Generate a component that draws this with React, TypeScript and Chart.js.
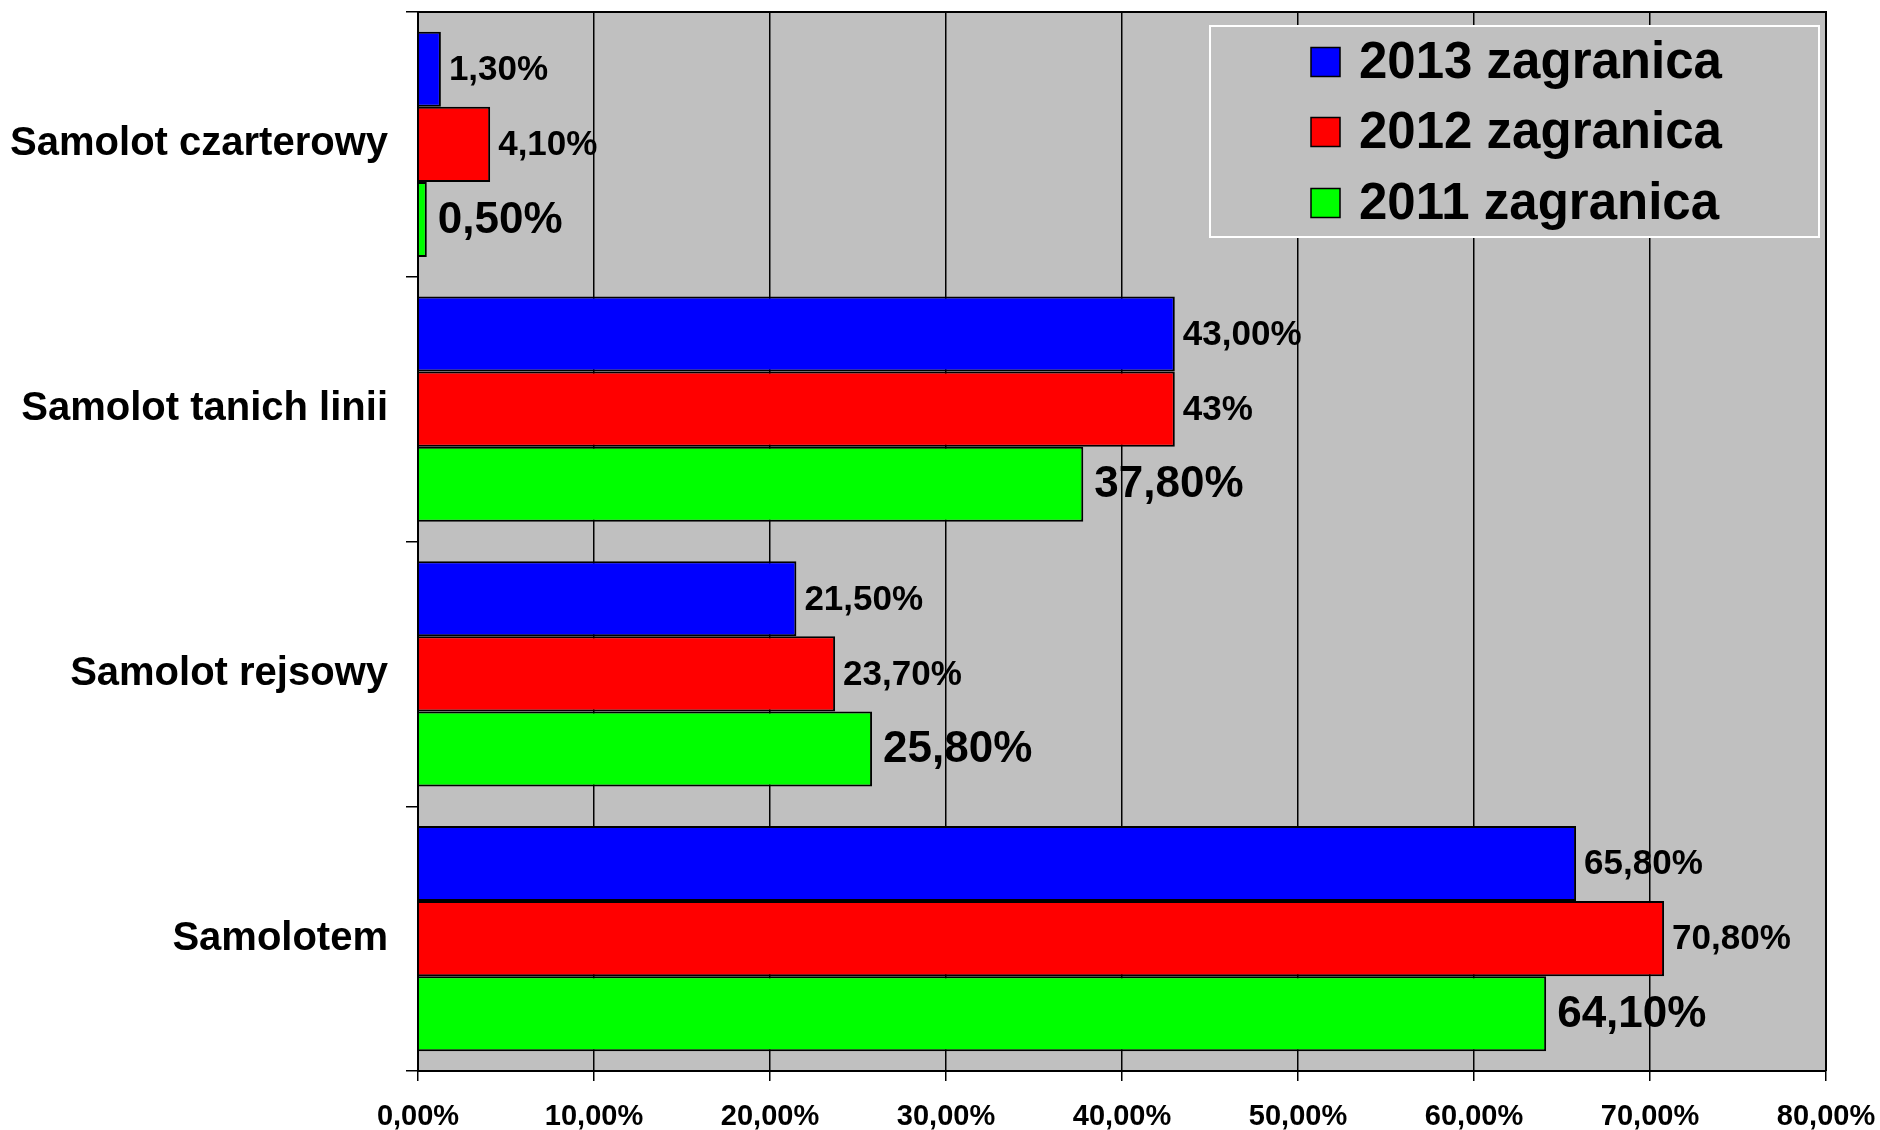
import React, { useEffect, useRef } from "react";
import { Chart, registerables } from "chart.js";

Chart.register(...registerables);

const categories = [
  "Samolot czarterowy",
  "Samolot tanich linii",
  "Samolot rejsowy",
  "Samolotem",
];

const seriesNames = ["2013 zagranica", "2012 zagranica", "2011 zagranica"];

const values2013 = [1.3, 43.0, 21.5, 65.8];
const values2012 = [4.1, 43.0, 23.7, 70.8];
const values2011 = [0.5, 37.8, 25.8, 64.1];

const labels2013 = ["1,30%", "43,00%", "21,50%", "65,80%"];
const labels2012 = ["4,10%", "43%", "23,70%", "70,80%"];
const labels2011 = ["0,50%", "37,80%", "25,80%", "64,10%"];

const xTickLabels = [
  "0,00%",
  "10,00%",
  "20,00%",
  "30,00%",
  "40,00%",
  "50,00%",
  "60,00%",
  "70,00%",
  "80,00%",
];

const FONT = "'Liberation Sans', Arial, Helvetica, sans-serif";
const PLOT_BG = "#C0C0C0";

const dataLabelSets = [labels2013, labels2012, labels2011];

const plotBgPlugin = {
  id: "plotBg",
  beforeDraw(chart: any) {
    const { ctx, chartArea } = chart;
    ctx.save();
    ctx.fillStyle = PLOT_BG;
    ctx.fillRect(
      chartArea.left,
      chartArea.top,
      chartArea.right - chartArea.left,
      chartArea.bottom - chartArea.top
    );
    ctx.restore();
  },
  afterDatasetsDraw(chart: any) {
    const { ctx, chartArea } = chart;
    ctx.save();
    ctx.strokeStyle = "#000";
    ctx.lineWidth = 2;
    ctx.beginPath();
    ctx.moveTo(chartArea.left, chartArea.top);
    ctx.lineTo(chartArea.right, chartArea.top);
    ctx.lineTo(chartArea.right, chartArea.bottom);
    ctx.stroke();
    ctx.restore();
  },
};

const dataLabelPlugin = {
  id: "dataLabels",
  afterDatasetsDraw(chart: any) {
    const { ctx } = chart;
    ctx.save();
    ctx.fillStyle = "#000";
    ctx.textAlign = "left";
    ctx.textBaseline = "middle";
    chart.data.datasets.forEach((ds: any, di: number) => {
      const meta = chart.getDatasetMeta(di);
      const big = di === 2;
      ctx.font = `bold ${big ? 44 : 35}px ${FONT}`;
      meta.data.forEach((bar: any, i: number) => {
        const txt = dataLabelSets[di][i];
        ctx.fillText(txt, bar.x + (big ? 11 : 8), bar.y + 1);
      });
    });
    ctx.restore();
  },
};

const legendPlugin = {
  id: "boxLegend",
  afterDraw(chart: any) {
    const { ctx, chartArea } = chart;
    const left = chartArea.right - 616;
    const right = chartArea.right - 7;
    const top = chartArea.top + 14;
    const bottom = chartArea.top + 225;
    ctx.save();
    ctx.fillStyle = PLOT_BG;
    ctx.fillRect(left, top, right - left, bottom - top);
    ctx.strokeStyle = "#FFFFFF";
    ctx.lineWidth = 2;
    ctx.strokeRect(left, top, right - left, bottom - top);
    const rows = [36, 106, 177];
    ctx.font = `bold 51px ${FONT}`;
    ctx.textAlign = "left";
    ctx.textBaseline = "middle";
    chart.data.datasets.forEach((ds: any, i: number) => {
      const cy = top + rows[i];
      const sq = 29;
      ctx.fillStyle = ds.backgroundColor;
      ctx.fillRect(left + 101, cy - sq / 2, sq, sq);
      ctx.strokeStyle = "#000";
      ctx.lineWidth = 1.5;
      ctx.strokeRect(left + 101, cy - sq / 2, sq, sq);
      ctx.fillStyle = "#000";
      ctx.fillText(ds.label, left + 149, cy + 2);
    });
    ctx.restore();
  },
};

export default function App() {
  const canvasRef = useRef<HTMLCanvasElement | null>(null);

  useEffect(() => {
    if (!canvasRef.current) return;
    const colors = ["#0000FF", "#FF0000", "#00FF00"];
    const valueSets = [values2013, values2012, values2011];
    const chart = new Chart(canvasRef.current, {
      type: "bar",
      data: {
        labels: categories,
        datasets: seriesNames.map((name, i) => ({
          label: name,
          data: valueSets[i],
          backgroundColor: colors[i],
          borderColor: "#000",
          borderWidth: 2,
          categoryPercentage: 0.85,
          barPercentage: 1.0,
        })),
      },
      options: {
        indexAxis: "y",
        responsive: false,
        animation: false,
        layout: { padding: { top: 12, right: 54, left: 0, bottom: 0 } },
        plugins: {
          legend: { display: false },
          tooltip: { enabled: false },
        },
        scales: {
          x: {
            min: 0,
            max: 80,
            ticks: {
              stepSize: 10,
              color: "#000",
              padding: 19,
              maxRotation: 0,
              font: { family: FONT, size: 29, weight: "bold" },
              callback: (_v: any, i: number) => xTickLabels[i],
            },
            grid: {
              color: "#000",
              lineWidth: 1.5,
              drawTicks: true,
              tickLength: 10,
            },
            border: { display: true, color: "#000", width: 2 },
            afterFit: (scale: any) => {
              scale.height = 59;
              scale.paddingLeft = 0;
              scale.paddingRight = 0;
            },
          },
          y: {
            ticks: {
              color: "#000",
              padding: 18,
              font: { family: FONT, size: 40, weight: "bold" },
            },
            grid: {
              offset: true,
              drawOnChartArea: false,
              drawTicks: true,
              tickLength: 12,
              color: "#000",
              lineWidth: 1.5,
            },
            border: { display: true, color: "#000", width: 2 },
            afterFit: (scale: any) => {
              scale.width = 418;
              scale.paddingTop = 0;
              scale.paddingBottom = 0;
            },
          },
        },
      },
      plugins: [plotBgPlugin, dataLabelPlugin, legendPlugin],
    } as any);
    return () => chart.destroy();
  }, []);

  return (
    <div
      style={{
        position: "absolute",
        left: 0,
        top: 0,
        width: 1880,
        height: 1130,
        background: "#fff",
      }}
    >
      <canvas
        ref={canvasRef}
        width={1880}
        height={1130}
        style={{ display: "block", width: 1880, height: 1130 }}
      />
    </div>
  );
}
